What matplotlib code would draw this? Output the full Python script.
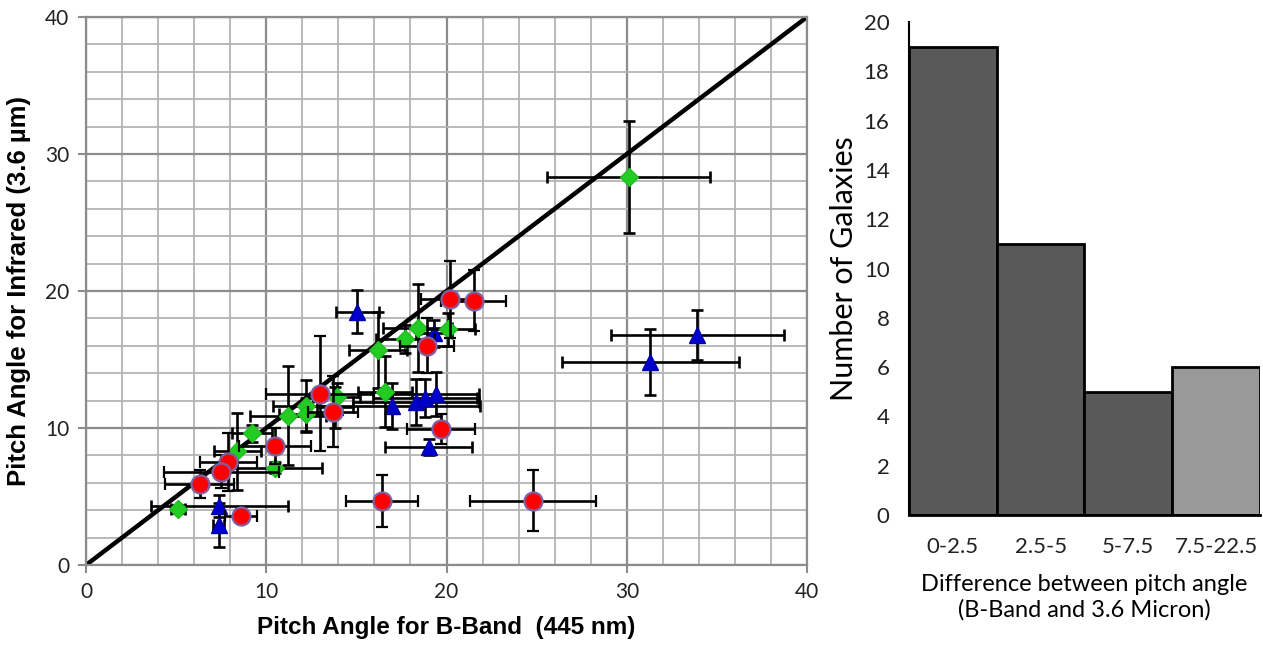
import matplotlib
matplotlib.use("Agg")
import matplotlib.pyplot as plt
from matplotlib.ticker import MultipleLocator

# --- datos: angulo de paso banda B vs 3.6 micras ---
red_x = [20.2, 21.5, 18.9, 13.0, 13.7, 10.5, 19.7, 7.9, 7.5, 6.3, 8.6, 16.4, 24.8]
red_y = [19.4, 19.3, 16.0, 12.5, 11.2, 8.7, 9.9, 7.5, 6.8, 5.9, 3.6, 4.7, 4.7]
red_xerr = [1.6, 1.8, 1.5, 3.0, 1.4, 2.0, 1.9, 1.6, 3.2, 1.9, 0.9, 2.0, 3.5]
red_yerr = [2.8, 2.2, 2.0, 4.2, 2.6, 1.3, 1.1, 2.1, 1.2, 1.0, 0.5, 1.9, 2.2]

green_x = [30.1, 18.4, 20.1, 17.7, 16.2, 13.9, 16.6, 11.2, 12.2, 12.2, 9.2, 8.4, 10.5, 5.1]
green_y = [28.3, 17.3, 17.2, 16.5, 15.7, 12.3, 12.65, 10.9, 11.6, 11.0, 9.6, 8.3, 7.1, 4.1]
green_xerr = [4.5, 1.9, 1.5, 1.6, 1.6, 1.3, 1.5, 2.1, 1.8, 1.5, 1.1, 1.3, 2.6, 0.4]
green_yerr = [4.1, 3.2, 1.2, 1.0, 2.8, 1.0, 2.6, 3.6, 1.9, 1.2, 0.6, 2.8, 0.4, 0.3]

blue_x = [15.05, 19.3, 16.95, 18.3, 18.8, 19.4, 19.0, 7.4, 7.35, 33.9, 31.3, 13.8]
blue_y = [18.5, 16.9, 11.6, 11.9, 12.2, 12.5, 8.6, 4.3, 2.9, 16.8, 14.8, 11.5]
blue_xerr = [1.2, 1.0, 4.9, 3.5, 2.9, 2.4, 2.4, 3.8, 0.3, 4.8, 4.9, 1.0]
blue_yerr = [1.6, 1.0, 1.7, 1.7, 1.4, 1.6, 0.6, 0.8, 1.6, 1.8, 2.4, 1.5]

hist_labels = ["0-2.5", "2.5-5", "5-7.5", "7.5-22.5"]
hist_counts = [19, 11, 5, 6]

fig = plt.figure(figsize=(12.63, 6.49), dpi=100)

# --- dispersion ---
ax = fig.add_axes([0.0681, 0.1294, 0.5709, 0.8444])
ax.set_xlim(0, 40)
ax.set_ylim(0, 40)
ax.xaxis.set_major_locator(MultipleLocator(10))
ax.yaxis.set_major_locator(MultipleLocator(10))
ax.xaxis.set_minor_locator(MultipleLocator(2))
ax.yaxis.set_minor_locator(MultipleLocator(2))
ax.grid(which="minor", color="#b4b4b4", linewidth=1.3)
ax.grid(which="major", color="#8c8c8c", linewidth=1.6)
ax.set_axisbelow(True)
for s in ax.spines.values():
    s.set_color("#8c8c8c")
    s.set_linewidth(1.6)
ax.tick_params(which="major", direction="out", length=6, width=1.5, color="#8c8c8c",
               labelsize=15, pad=6, labelcolor="#222222")
ax.tick_params(which="minor", length=0)
for lab in ax.get_xticklabels() + ax.get_yticklabels():
    lab.set_family("Lato")

ax.plot([0, 40], [0, 40], color="black", linewidth=3.2, zorder=2)

eb = dict(ecolor="black", elinewidth=1.9, capsize=4, capthick=1.9, linestyle="none")
ax.errorbar(blue_x, blue_y, xerr=blue_xerr, yerr=blue_yerr, marker="^", markersize=12,
            markerfacecolor="#0000cc", markeredgecolor="#0000aa", zorder=3, **eb)
ax.errorbar(green_x, green_y, xerr=green_xerr, yerr=green_yerr, marker="D", markersize=9.5,
            markerfacecolor="#22cc22", markeredgecolor="#22bb22", zorder=4, **eb)
ax.errorbar(red_x, red_y, xerr=red_xerr, yerr=red_yerr, marker="o", markersize=13,
            markerfacecolor="#ff0000", markeredgecolor="#8060a0", markeredgewidth=1.6,
            zorder=5, **eb)

lab_font = dict(family=["Liberation Sans", "DejaVu Sans"], weight="bold")
ax.set_xlabel("Pitch Angle for B-Band  (445 nm)", labelpad=10, size=17.5, **lab_font)
ax.set_ylabel("Pitch Angle for Infrared (3.6 µm)", labelpad=10, size=18.5, **lab_font)

# --- histograma ---
hx = fig.add_axes([0.7197, 0.2065, 0.2779, 0.7595])
pos = range(len(hist_labels))
hx.bar(pos, hist_counts, width=1.0, color=["#595959", "#595959", "#595959", "#999999"],
       edgecolor="black", linewidth=2)
hx.set_xlim(-0.5, 3.5)
hx.set_ylim(0, 20)
hx.yaxis.set_major_locator(MultipleLocator(2))
hx.set_xticks(list(pos))
hx.set_xticklabels(hist_labels)
hx.spines["top"].set_visible(False)
hx.spines["right"].set_visible(False)
hx.spines["left"].set_linewidth(1.5)
hx.spines["bottom"].set_linewidth(2)
hx.tick_params(length=0, labelsize=16, colors="#222222")
hx.tick_params(axis="y", pad=14)
hx.tick_params(axis="x", pad=16)
for lab in hx.get_xticklabels() + hx.get_yticklabels():
    lab.set_family("Lato")
hx.set_ylabel("Number of Galaxies", family="Lato", size=22, labelpad=4)
hx.set_xlabel("Difference between pitch angle\n(B-Band and 3.6 Micron)", family="Lato",
              size=17, labelpad=12, linespacing=1.25)

fig.savefig("out.png", dpi=100)
